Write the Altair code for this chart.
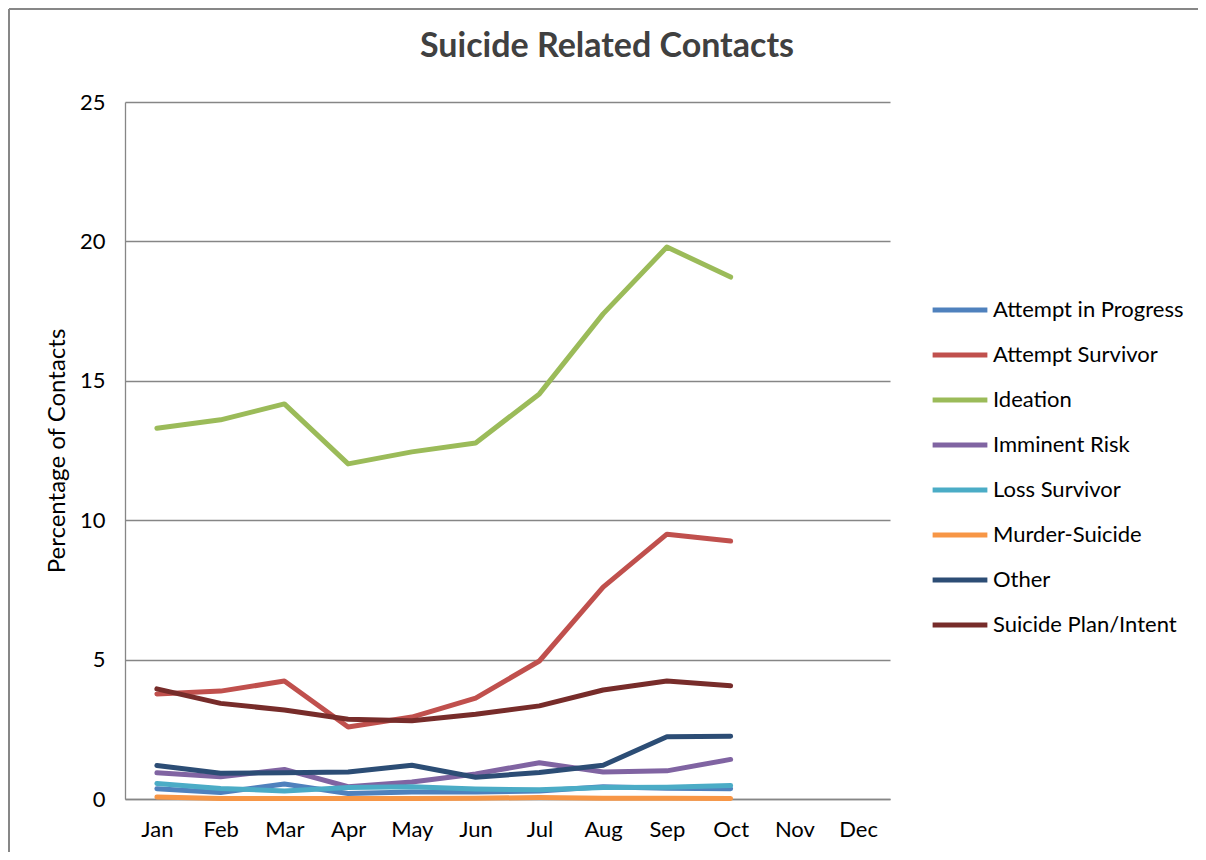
import altair as alt
import pandas as pd

months = ["Jan", "Feb", "Mar", "Apr", "May", "Jun", "Jul", "Aug", "Sep", "Oct", "Nov", "Dec"]
data_months = months[:10]

series_names = ["Attempt in Progress", "Attempt Survivor", "Ideation", "Imminent Risk",
                "Loss Survivor", "Murder-Suicide", "Other", "Suicide Plan/Intent"]
colors = ["#4F81BD", "#C0504D", "#9BBB59", "#8064A2", "#4BACC6", "#F79646", "#2C4D75", "#772C2A"]

attempt_in_progress = [0.37, 0.23, 0.54, 0.20, 0.25, 0.25, 0.29, 0.44, 0.39, 0.37]
attempt_survivor = [3.77, 3.87, 4.23, 2.58, 2.94, 3.62, 4.95, 7.60, 9.50, 9.25]
ideation = [13.30, 13.60, 14.17, 12.02, 12.45, 12.77, 14.53, 17.40, 19.80, 18.72]
imminent_risk = [0.94, 0.80, 1.06, 0.44, 0.61, 0.90, 1.30, 0.97, 1.01, 1.42]
loss_survivor = [0.56, 0.38, 0.29, 0.41, 0.44, 0.36, 0.33, 0.41, 0.42, 0.48]
murder_suicide = [0.07, 0.02, 0.02, 0.02, 0.02, 0.03, 0.05, 0.03, 0.03, 0.02]
other = [1.20, 0.92, 0.94, 0.97, 1.21, 0.78, 0.95, 1.21, 2.23, 2.25]
suicide_plan = [3.95, 3.43, 3.19, 2.86, 2.81, 3.04, 3.34, 3.91, 4.23, 4.06]

title_text = ["Suicide Related Contacts"]

all_series = [attempt_in_progress, attempt_survivor, ideation, imminent_risk,
              loss_survivor, murder_suicide, other, suicide_plan]

rows = []
for name, vals in zip(series_names, all_series):
    for m, v in zip(data_months, vals):
        rows.append({"Month": m, "Series": name, "Value": v})
df = pd.DataFrame(rows)
title_df = pd.DataFrame({"t": title_text})

FONT = "Lato"
FRAME = "#878787"

lines = alt.Chart(df).mark_line(strokeWidth=5, strokeCap="round", strokeJoin="round").encode(
    x=alt.X("Month:O", sort=months,
            scale=alt.Scale(domain=months, padding=0.5),
            axis=alt.Axis(title=None, labelAngle=0, labelFontSize=22, labelColor="#000000",
                          labelFont=FONT, domainColor="#868686", domainWidth=1.3,
                          ticks=False, labelPadding=20, grid=False)),
    y=alt.Y("Value:Q",
            scale=alt.Scale(domain=[0, 25]),
            axis=alt.Axis(title="Percentage of Contacts", values=[0, 5, 10, 15, 20, 25],
                          titleFontSize=24, titleFontWeight="normal", titleFont=FONT,
                          titleColor="#000000", titlePadding=10,
                          labelFontSize=22, labelFont=FONT, labelColor="#000000",
                          labelPadding=20, ticks=False,
                          domainColor="#868686", domainWidth=1.3,
                          gridColor="#868686", gridWidth=1.3)),
    color=alt.Color("Series:N", sort=series_names,
                    scale=alt.Scale(domain=series_names, range=colors),
                    legend=alt.Legend(title=None, orient="none", legendX=805, legendY=178,
                                      symbolType="stroke", symbolSize=3000,
                                      symbolStrokeWidth=5, labelFontSize=22,
                                      labelFont=FONT, labelColor="#000000",
                                      rowPadding=4, labelOffset=3, labelLimit=0)),
    order=alt.Order("Series:N"),
)

title_mark = alt.Chart(title_df).mark_text(
    font=FONT, fontSize=34, fontWeight="bold", color="#404040",
    align="center", baseline="middle"
).encode(text="t:N", x=alt.value(482), y=alt.value(-55))

frame_top = alt.Chart(title_df).mark_rule(color=FRAME, strokeWidth=2).encode(
    x=alt.value(-116), x2=alt.value(1100), y=alt.value(-93)
)
frame_left = alt.Chart(title_df).mark_rule(color=FRAME, strokeWidth=2).encode(
    x=alt.value(-116), y=alt.value(-93), y2=alt.value(800)
)

chart = alt.layer(frame_top, frame_left, title_mark, lines).properties(
    width=765,
    height=697,
    autosize=alt.AutoSizeParams(type="none"),
    padding={"left": 117, "top": 94, "right": 308, "bottom": 53},
).configure_view(stroke=None)

chart.save("out.html", embed_options={"renderer": "svg", "actions": False})
